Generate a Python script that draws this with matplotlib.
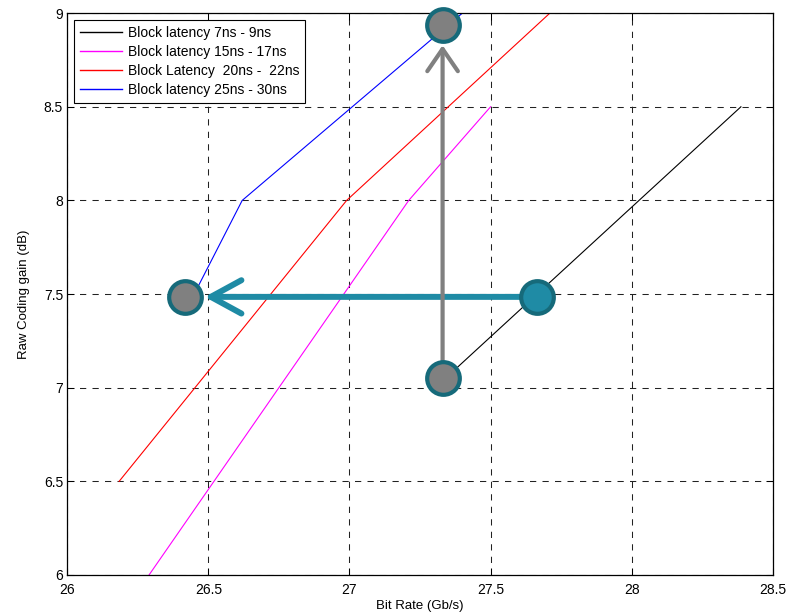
import numpy as np
import matplotlib
matplotlib.use('Agg')
import matplotlib.pyplot as plt
from matplotlib.patches import FancyArrowPatch

plt.rcParams['font.family'] = ['Liberation Sans', 'DejaVu Sans']

# curves (bit rate Gb/s, coding gain dB)
lat_7_9_x = [27.34, 28.387]
lat_7_9_y = [7.05, 8.5]
lat_15_17_x = [26.29, 27.21, 27.50]
lat_15_17_y = [6.0, 8.0, 8.5]
lat_20_22_x = [26.184, 26.99, 27.71]
lat_20_22_y = [6.5, 8.0, 9.0]
lat_25_30_x = [26.45, 26.62, 27.40, 27.50]
lat_25_30_y = [7.5, 8.0, 9.0, 9.0]

labels = ['Block latency 7ns - 9ns', 'Block latency 15ns - 17ns',
          'Block Latency  20ns -  22ns', 'Block latency 25ns - 30ns']
colors = ['#000000', '#ff00ff', '#ff0000', '#0000ff']

# annotation points
p_start = (27.33, 7.053)    # bottom grey circle
p_top = (27.33, 8.936)      # top grey circle
p_right = (27.665, 7.485)   # teal circle
p_left = (26.418, 7.485)    # left grey circle

teal = '#1f8ba5'
dark_teal = '#166a7a'
grey = '#808080'

fig = plt.figure(figsize=(8, 6.12), dpi=100)
ax = fig.add_axes([0.084, 0.0605, 0.882, 0.918])

series = [(lat_7_9_x, lat_7_9_y), (lat_15_17_x, lat_15_17_y),
          (lat_20_22_x, lat_20_22_y), (lat_25_30_x, lat_25_30_y)]
handles = []
for (xs, ys), c, lab in zip(series, colors, labels):
    h, = ax.plot(xs, ys, color=c, lw=0.8, label=lab)
    handles.append(h)

# arrows
ha = FancyArrowPatch(p_right, p_left, arrowstyle='->,head_length=1.1,head_width=0.6',
                     color=teal, lw=4.3, capstyle='round', joinstyle='round',
                     shrinkA=0, shrinkB=14, mutation_scale=20, zorder=4)
ax.add_patch(ha)
va = FancyArrowPatch(p_start, p_top, arrowstyle='->,head_length=0.8,head_width=0.55',
                     color=grey, lw=3.0, capstyle='round', joinstyle='round',
                     shrinkA=0, shrinkB=14.5, mutation_scale=20, zorder=4)
ax.add_patch(va)

ms = 23.5
mew = 3.0
for p, fc in [(p_start, grey), (p_top, grey), (p_left, grey), (p_right, teal)]:
    ax.plot(p[0], p[1], 'o', ms=ms, mfc=fc, mec=dark_teal, mew=mew, zorder=5, clip_on=False)

ax.set_xlim(26, 28.5)
ax.set_ylim(6, 9)
ax.set_xticks([26, 26.5, 27, 27.5, 28, 28.5])
ax.set_xticklabels(['26', '26.5', '27', '27.5', '28', '28.5'])
ax.set_yticks([6, 6.5, 7, 7.5, 8, 8.5, 9])
ax.set_yticklabels(['6', '6.5', '7', '7.5', '8', '8.5', '9'])
ax.grid(True, color='#222222', linestyle=(0, (6, 6)), lw=0.75)
ax.tick_params(direction='in', length=5, width=0.75, top=True, right=True,
               labelsize=10)
ax.tick_params(axis='x', pad=6)
ax.tick_params(axis='y', pad=3)
for s in ax.spines.values():
    s.set_linewidth(0.9)

ax.set_xlabel('Bit Rate (Gb/s)', fontsize=9.5, labelpad=2)
ax.set_ylabel('Raw Coding gain (dB)', fontsize=9.5, labelpad=10)

leg = ax.legend(handles=handles, loc='upper left', fontsize=10, frameon=True,
                fancybox=False, edgecolor='k', framealpha=1, borderaxespad=0.5,
                handlelength=3.0, handletextpad=0.4, labelspacing=0.35,
                borderpad=0.45)
leg.get_frame().set_linewidth(0.8)
for ln, c in zip(leg.get_lines(), colors):
    ln.set_color(c)
    ln.set_linewidth(1.0)
leg.set_zorder(6)

fig.savefig('out.png', dpi=100)
